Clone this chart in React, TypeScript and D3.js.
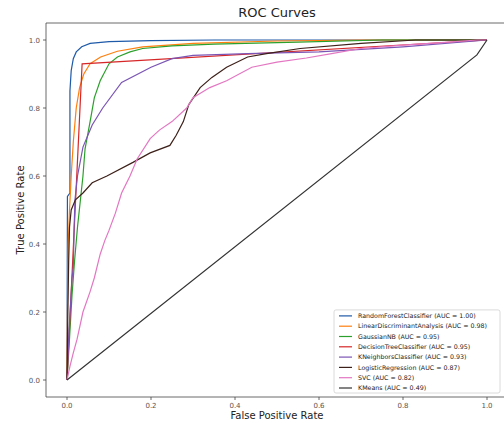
import React from 'react';
import * as d3 from 'd3';

// ROC points as [fpr, tpr]

const randomForest: [number, number][] = [
  [0, 0], [0.001, 0.54], [0.007, 0.55], [0.007, 0.85], [0.01, 0.91], [0.015, 0.945],
  [0.022, 0.965], [0.035, 0.98], [0.055, 0.99], [0.1, 0.995], [0.2, 0.998], [0.35, 1], [1, 1],
];

const linearDiscriminant: [number, number][] = [
  [0, 0], [0.001, 0.2], [0.003, 0.4], [0.006, 0.5], [0.01, 0.6], [0.015, 0.7], [0.022, 0.8],
  [0.03, 0.86], [0.04, 0.9], [0.055, 0.93], [0.08, 0.95], [0.12, 0.967], [0.18, 0.98],
  [0.3, 0.99], [0.5, 0.997], [0.7, 1], [1, 1],
];

const gaussianNB: [number, number][] = [
  [0, 0], [0.005, 0.1], [0.012, 0.25], [0.018, 0.35], [0.025, 0.45], [0.032, 0.53],
  [0.038, 0.6], [0.043, 0.68], [0.055, 0.76], [0.065, 0.83], [0.079, 0.88], [0.1, 0.93],
  [0.12, 0.95], [0.15, 0.965], [0.18, 0.975], [0.25, 0.983], [0.35, 0.988], [0.55, 0.994],
  [0.75, 1], [1, 1],
];

const decisionTree: [number, number][] = [[0, 0], [0.036, 0.93], [1, 1]];

const kNeighbors: [number, number][] = [
  [0, 0], [0.005, 0.15], [0.012, 0.3], [0.015, 0.33], [0.017, 0.45], [0.019, 0.53],
  [0.025, 0.6], [0.038, 0.685], [0.06, 0.75], [0.085, 0.8], [0.13, 0.875], [0.2, 0.92],
  [0.25, 0.945], [0.3, 0.955], [0.43, 0.96], [0.6, 0.965], [0.8, 0.98], [1, 1],
];

const logisticRegression: [number, number][] = [
  [0, 0], [0.002, 0.2], [0.004, 0.35], [0.006, 0.45], [0.01, 0.5], [0.02, 0.53],
  [0.038, 0.55], [0.06, 0.58], [0.095, 0.6], [0.157, 0.64], [0.198, 0.668], [0.245, 0.69],
  [0.26, 0.72], [0.277, 0.76], [0.29, 0.81], [0.317, 0.86], [0.345, 0.89], [0.38, 0.92],
  [0.43, 0.95], [0.475, 0.96], [0.555, 0.975], [0.7, 0.99], [0.83, 1], [1, 1],
];

const svc: [number, number][] = [
  [0, 0], [0.007, 0.04], [0.015, 0.08], [0.024, 0.12], [0.038, 0.2], [0.055, 0.26],
  [0.065, 0.3], [0.079, 0.37], [0.09, 0.41], [0.1, 0.44], [0.115, 0.49], [0.13, 0.55],
  [0.15, 0.6], [0.167, 0.65], [0.198, 0.71], [0.22, 0.735], [0.25, 0.76], [0.285, 0.8],
  [0.3, 0.83], [0.34, 0.86], [0.38, 0.88], [0.44, 0.92], [0.5, 0.935], [0.57, 0.947],
  [0.63, 0.96], [0.7, 0.975], [0.8, 0.985], [0.9, 0.993], [0.976, 1], [1, 1],
];

const kMeans: [number, number][] = [[0, 0], [0.976, 0.956], [1, 1]];

const modelNames = [
  'RandomForestClassifier', 'LinearDiscriminantAnalysis', 'GaussianNB', 'DecisionTreeClassifier',
  'KNeighborsClassifier', 'LogisticRegression', 'SVC', 'KMeans',
];
const aucValues = ['1.00', '0.98', '0.95', '0.95', '0.93', '0.87', '0.82', '0.49'];
const curves = [
  randomForest, linearDiscriminant, gaussianNB, decisionTree,
  kNeighbors, logisticRegression, svc, kMeans,
];
const colors = [
  '#1f5aa8', '#ff7f0e', '#2ca02c', '#d62728', '#7b55b5', '#3d2019', '#e377c2', '#333333',
];

const ticks = [0, 0.2, 0.4, 0.6, 0.8, 1.0];

const W = 504;
const H = 423;
const left = 46;
const right = 508;
const top = 23;
const bottom = 397;

const App = () => {
  const x = d3.scaleLinear().domain([-0.05, 1.05]).range([left, right]);
  const y = d3.scaleLinear().domain([-0.05, 1.05]).range([bottom, top]);

  const line = d3
    .line<[number, number]>()
    .x(d => x(d[0]))
    .y(d => y(d[1]));

  const font = '"DejaVu Sans", sans-serif';
  const axisColor = '#444';

  // legend box
  const lgRight = 500;
  const lgBottom = 393;
  const lgWidth = 166;
  const rowH = 10.3;
  const lgHeight = rowH * (modelNames.length - 1) + 11;
  const lgLeft = lgRight - lgWidth;
  const lgTop = lgBottom - lgHeight;

  return (
    <svg
      width={W}
      height={H}
      style={{ position: 'fixed', left: 0, top: 0, background: '#fff' }}
      fontFamily={font}
    >
      <rect x={0} y={0} width={W} height={H} fill="#fff" />
      <text x={(left + right) / 2} y={17} textAnchor="middle" fontSize={13} fill="#222">
        ROC Curves
      </text>

      {curves.map((c, i) => (
        <path key={i} d={line(c) || ''} fill="none" stroke={colors[i]} strokeWidth={1.2} />
      ))}

      {/* spines */}
      <line x1={left} x2={left} y1={top} y2={bottom} stroke={axisColor} strokeWidth={0.8} />
      <line x1={left} x2={right} y1={bottom} y2={bottom} stroke={axisColor} strokeWidth={0.8} />
      <line x1={left} x2={right} y1={top} y2={top} stroke={axisColor} strokeWidth={0.8} />
      <line x1={right} x2={right} y1={top} y2={bottom} stroke={axisColor} strokeWidth={0.8} />

      {ticks.map(t => (
        <g key={'x' + t}>
          <line x1={x(t)} x2={x(t)} y1={bottom} y2={bottom + 3} stroke={axisColor} strokeWidth={0.8} />
          <text x={x(t)} y={bottom + 11} textAnchor="middle" fontSize={7} fill="#555">
            {t.toFixed(1)}
          </text>
        </g>
      ))}
      {ticks.map(t => (
        <g key={'y' + t}>
          <line x1={left - 3} x2={left} y1={y(t)} y2={y(t)} stroke={axisColor} strokeWidth={0.8} />
          <text x={left - 6} y={y(t) + 2.5} textAnchor="end" fontSize={7} fill="#555">
            {t.toFixed(1)}
          </text>
        </g>
      ))}

      <text x={(left + right) / 2} y={419} textAnchor="middle" fontSize={10} fill="#222">
        False Positive Rate
      </text>
      <text
        transform={`translate(24,${(top + bottom) / 2}) rotate(-90)`}
        textAnchor="middle"
        fontSize={10}
        fill="#222"
      >
        True Positive Rate
      </text>

      {/* legend */}
      <rect
        x={lgLeft}
        y={lgTop}
        width={lgWidth}
        height={lgHeight}
        rx={2}
        fill="#fff"
        fillOpacity={0.85}
        stroke="#d0d0d0"
        strokeWidth={0.8}
      />
      {modelNames.map((name, i) => {
        const ry = lgTop + 6 + i * rowH;
        return (
          <g key={name}>
            <line x1={lgLeft + 5} x2={lgLeft + 18} y1={ry} y2={ry} stroke={colors[i]} strokeWidth={1.2} />
            <text x={lgLeft + 24} y={ry + 2.2} fontSize={6.3} fill="#222">
              {`${name} (AUC = ${aucValues[i]})`}
            </text>
          </g>
        );
      })}
    </svg>
  );
};

export default App;
